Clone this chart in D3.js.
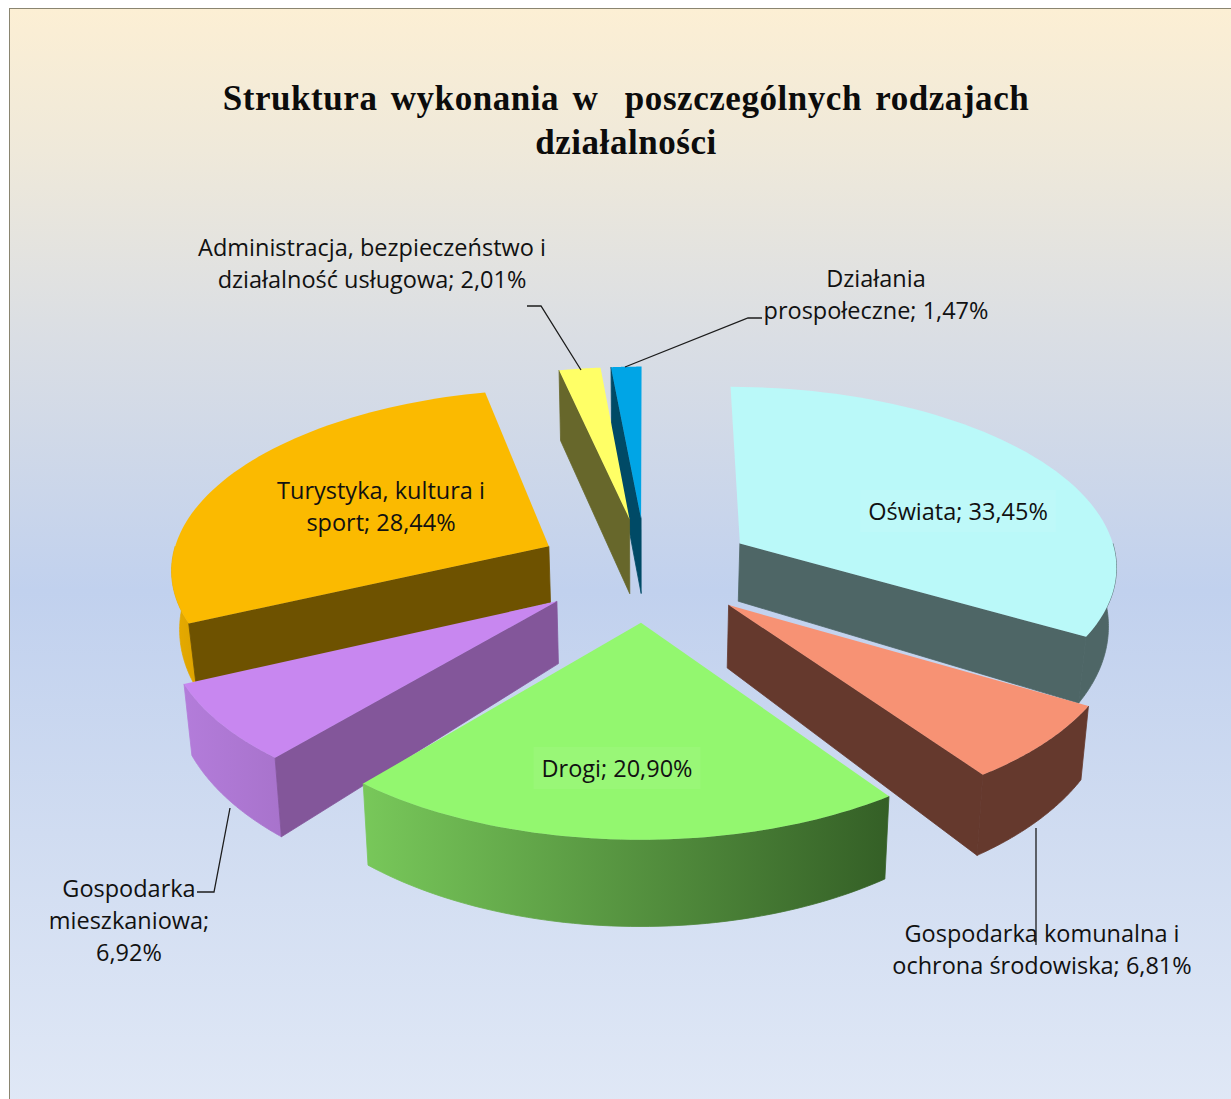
<!DOCTYPE html>
<html><head><meta charset="utf-8">
<script src="https://cdn.jsdelivr.net/npm/d3@7"></script>
<style>html,body{margin:0;padding:0;background:#fff;overflow:hidden}svg{display:block}</style>
</head><body><svg id="c" width="1231" height="1099"></svg>
<script>
const categories = ["Oświata","Gospodarka komunalna i ochrona środowiska","Drogi","Gospodarka mieszkaniowa","Turystyka, kultura i sport","Administracja, bezpieczeństwo i działalność usługowa","Działania prospołeczne"];
const values = [33.45,6.81,20.90,6.92,28.44,2.01,1.47];
const valueLabels = ["33,45%","6,81%","20,90%","6,92%","28,44%","2,01%","1,47%"];
const topColors = ["#BAF9F9","#F79274","#93F76F","#C887F0","#FBBA00","#FFFF66","#00A5E6"];
const sideColors = ["#4E6666","#65392D","#3F6F2C","#83569A","#6E5200","#67672B","#004A66"];
const rimLeft = ["#4E6666","#65392D","#78C85A","#B37CDA","#E8AC00","#67672B","#004A66"];
const rimRight = ["#4E6666","#65392D","#345F26","#A873CC","#DDA300","#67672B","#004A66"];
const labelLines = [
 ["Oświata; 33,45%"],
 ["Gospodarka komunalna i","ochrona środowiska; 6,81%"],
 ["Drogi; 20,90%"],
 ["Gospodarka","mieszkaniowa;","6,92%"],
 ["Turystyka, kultura i","sport; 28,44%"],
 ["Administracja, bezpieczeństwo i","działalność usługowa; 2,01%"],
 ["Działania","prospołeczne; 1,47%"]];
const labelCenters = [[958,512],[1042,934],[617,769],[129,889],[381,491],[372,248],[876,279]];
const leaders = [null,{a:[1036,828],pts:[[1036,945]]},null,{a:[230,808],pts:[[214,892],[197,892]]},null,{a:[581,370],pts:[[541,306],[527,306]]},{a:[625,367],pts:[[748,318],[762,318]]}];
const titleLines = ["Struktura wykonania w  poszczególnych rodzajach","działalności"];

const W=1231,H=1099,cx=646,cy=569,R=379,RY=179.6,K=0.112,EXPLODE=0.29,LOW=0.983;
const svg=d3.select("#c");
const defs=svg.append("defs");
const bg=defs.append("linearGradient").attr("id","bg").attr("x1",0).attr("y1",0).attr("x2",0).attr("y2",1);
[[0,"#FCEFD4"],[0.13,"#EFE9DA"],[0.3,"#DADEE4"],[0.53,"#C1D1EE"],[0.75,"#D0DCF1"],[1,"#E0E8F6"]].forEach(s=>bg.append("stop").attr("offset",s[0]).attr("stop-color",s[1]));
svg.append("rect").attr("x",9.5).attr("y",8.5).attr("width",W).attr("height",H).attr("fill","url(#bg)").attr("stroke","#8A8570").attr("stroke-width",1);

// wall height depends on depth in the plane
const wallH=d3.scaleLinear().domain([-1.3,-0.29,-0.13,0.35,1.3]).range([70,75,56,66,87]);
const sc=Y=>1/(1-K*Y);
function topPt([X,Y]){const s=sc(Y);return [cx+R*X*s,cy+RY*Y*s];}
function botPt([X,Y]){const p=topPt([X,Y]);return [cx+(p[0]-cx)*LOW,p[1]+wallH(Y)];}
const pie=d3.pie().sort(null).value(d=>d);
const arcs=pie(values).map((d,i)=>{
  const mid=(d.startAngle+d.endAngle)/2;
  return {i,a0:d.startAngle,a1:d.endAngle,mid,ox:EXPLODE*Math.sin(mid),oy:-EXPLODE*Math.cos(mid)};
});
const line=d3.line();
function polar(d,a){return [d.ox+Math.sin(a),d.oy-Math.cos(a)];}
const angles=(a,b)=>d3.range(0,61).map(k=>a+(b-a)*k/60);
function wall(p,q){return line([topPt(p),topPt(q),botPt(q),botPt(p)])+"Z";}

arcs.slice().sort((a,b)=>d3.descending(Math.cos(a.mid),Math.cos(b.mid))).forEach(d=>{
  const g=svg.append("g");
  const apex=[d.ox,d.oy],pa=polar(d,d.a0),pb=polar(d,d.a1);
  // rim (only the side facing the viewer)
  const ra=Math.max(d.a0,Math.PI/2),rb=Math.min(d.a1,1.5*Math.PI);
  if(rb>ra){
    const pts=angles(ra,rb).map(a=>polar(d,a));
    const tp=pts.map(topPt),bt=pts.map(botPt).reverse();
    const id="rim"+d.i,xs=tp.concat(bt).map(p=>p[0]);
    const gr=defs.append("linearGradient").attr("id",id).attr("gradientUnits","userSpaceOnUse")
      .attr("x1",d3.min(xs)).attr("x2",d3.max(xs)).attr("y1",0).attr("y2",0);
    gr.append("stop").attr("offset",0).attr("stop-color",rimLeft[d.i]);
    gr.append("stop").attr("offset",1).attr("stop-color",rimRight[d.i]);
    g.append("path").attr("d",line(tp.concat(bt))+"Z").attr("fill",`url(#${id})`).attr("stroke",`url(#${id})`).attr("stroke-width",0.8);
  }
  // straight walls whose outward normal looks at the viewer
  if(Math.cos(d.a0-Math.PI/2)<-1e-6) g.append("path").attr("d",wall(apex,pa)).attr("fill",sideColors[d.i]).attr("stroke",sideColors[d.i]).attr("stroke-width",0.8);
  if(Math.cos(d.a1+Math.PI/2)<-1e-6) g.append("path").attr("d",wall(apex,pb)).attr("fill",sideColors[d.i]).attr("stroke",sideColors[d.i]).attr("stroke-width",0.8);
  // top face
  const face=[apex].concat(angles(d.a0,d.a1).map(a=>polar(d,a))).map(topPt);
  g.append("path").attr("d",line(face)+"Z").attr("fill",topColors[d.i]);
});

// leader lines
leaders.forEach(l=>{ if(!l) return;
  svg.append("path").attr("d",line([l.a].concat(l.pts))).attr("fill","none").attr("stroke","#1c1c1c").attr("stroke-width",1.3);
});

// labels
const FS=23.5,LH=32;
labelLines.forEach((ls,i)=>{
  const [x,y]=labelCenters[i];
  const inside=[0,2].includes(i);
  const g=svg.append("g");
  const t=g.append("text").attr("font-family","'Open Sans',sans-serif").attr("font-size",FS).attr("fill","#111").attr("text-anchor","middle");
  ls.forEach((s,k)=>t.append("tspan").attr("x",x).attr("y",y+k*LH+8).text(s));
  if(inside){
    const b=t.node().getBBox();
    g.insert("rect","text").attr("x",b.x-8).attr("y",b.y-5).attr("width",b.width+16).attr("height",b.height+10).attr("fill","#fff").attr("opacity",0.06);
  }
});

// title
titleLines.forEach((s,k)=>{
  svg.append("text").attr("x",626).attr("y",110+k*44).attr("text-anchor","middle")
   .attr("font-family","'Liberation Serif',serif").attr("font-weight","bold").attr("font-size",35).attr("fill","#0c0c0c")
   .attr("letter-spacing",0.55).attr("word-spacing",4).style("white-space","pre").text(s);
});
</script></body></html>
